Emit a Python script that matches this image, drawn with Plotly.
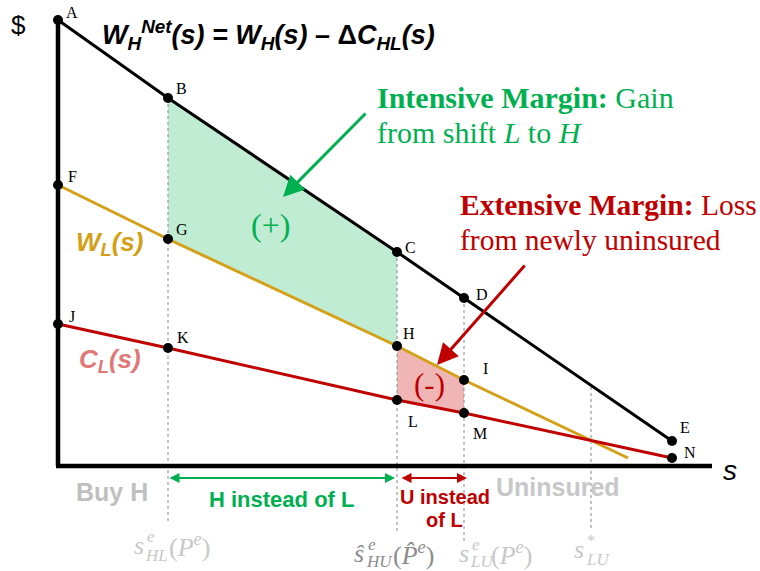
import plotly.graph_objects as go

# ---- data (s on the horizontal axis, dollars on the vertical) ----
wh_net_s = [0.00, 1.10, 3.39, 4.06, 6.14]
wh_net_v = [4.46, 3.68, 2.14, 1.68, 0.25]
wh_net_lbl = ["A", "B", "C", "D", "E"]

wl_s = [0.00, 1.10, 3.39, 4.06, 5.70]
wl_v = [2.81, 2.27, 1.20, 0.86, 0.08]
wl_lbl = ["F", "G", "H", "I", None]

cl_s = [0.00, 1.10, 3.39, 4.06, 6.14]
cl_v = [1.42, 1.18, 0.66, 0.53, 0.08]
cl_lbl = ["J", "K", "L", "M", "N"]

s_star_lu = 5.33
s_star_top = 0.79
axis_s_max = 6.54
axis_v_max = 4.48

# colours
BLACK = "#000000"
GOLD = "#D4A017"
RED = "#C00000"
GREEN = "#00B050"
PINK = "#E07878"
GREEN_FILL = "#C0ECD4"
RED_FILL = "#F0B6B6"
LIGHT = "#C8C8C8"
MID = "#8C8C8C"

fig = go.Figure()

# shaded margins: intensive (B-C-H-G) and extensive (H-I-M-L)
fig.add_trace(go.Scatter(
    x=[wh_net_s[1], wh_net_s[2], wl_s[2], wl_s[1]],
    y=[wh_net_v[1], wh_net_v[2], wl_v[2], wl_v[1]],
    fill="toself", fillcolor=GREEN_FILL, line=dict(width=0), mode="lines",
    hoverinfo="skip"))
fig.add_trace(go.Scatter(
    x=[wl_s[2], wl_s[3], cl_s[3], cl_s[2]],
    y=[wl_v[2], wl_v[3], cl_v[3], cl_v[2]],
    fill="toself", fillcolor=RED_FILL, line=dict(width=0), mode="lines",
    hoverinfo="skip"))

# dotted guides from the curves down below the axis
guide_bottoms = [-0.56, -0.66, -0.76]
for i, bot in zip([1, 2, 3], guide_bottoms):
    fig.add_trace(go.Scatter(x=[wh_net_s[i], wh_net_s[i]], y=[wh_net_v[i], bot],
                             mode="lines", line=dict(color="#888888", width=1, dash="dot"),
                             hoverinfo="skip"))
fig.add_trace(go.Scatter(x=[s_star_lu, s_star_lu], y=[s_star_top, -0.64],
                         mode="lines", line=dict(color="#888888", width=1, dash="dot"),
                         hoverinfo="skip"))

# curves
fig.add_trace(go.Scatter(x=wl_s, y=wl_v, mode="lines", line=dict(color=GOLD, width=3),
                         hoverinfo="skip"))
fig.add_trace(go.Scatter(x=cl_s, y=cl_v, mode="lines", line=dict(color=RED, width=3),
                         hoverinfo="skip"))
fig.add_trace(go.Scatter(x=wh_net_s, y=wh_net_v, mode="lines", line=dict(color=BLACK, width=3),
                         hoverinfo="skip"))

# axes
fig.add_trace(go.Scatter(x=[0, 0], y=[axis_v_max, 0], mode="lines",
                         line=dict(color=BLACK, width=4.5), hoverinfo="skip"))
fig.add_trace(go.Scatter(x=[-0.02, axis_s_max], y=[0, 0], mode="lines",
                         line=dict(color=BLACK, width=4.5), hoverinfo="skip"))

# labelled points
pts_s, pts_v, pts_l = [], [], []
for xs, vs, ls in [(wh_net_s, wh_net_v, wh_net_lbl), (wl_s, wl_v, wl_lbl), (cl_s, cl_v, cl_lbl)]:
    for x, v, l in zip(xs, vs, ls):
        if l:
            pts_s.append(x); pts_v.append(v); pts_l.append(l)
fig.add_trace(go.Scatter(x=pts_s, y=pts_v, mode="markers",
                         marker=dict(color=BLACK, size=10), hoverinfo="skip"))

label_offsets = {
    "A": (14, 8), "B": (13, 10), "C": (13, 5), "D": (18, 4), "E": (13, 14),
    "F": (14, 9), "G": (14, 10), "H": (12, 13), "I": (21, 12),
    "J": (14, 8), "K": (15, 11), "L": (16, -21), "M": (16, -20), "N": (18, 6),
}
SERIF = "Liberation Serif"
SANS = "Liberation Sans"
ann = []
for x, v, l in zip(pts_s, pts_v, pts_l):
    dx, dy = label_offsets[l]
    ann.append(dict(x=x, y=v, text=l, showarrow=False, xshift=dx, yshift=dy,
                    font=dict(family=SERIF, size=16, color=BLACK)))


def txt(x, y, text, size, color, family=SANS, xanchor="center", xshift=0):
    ann.append(dict(x=x, y=y, text=text, showarrow=False, xanchor=xanchor, xshift=xshift,
                    yanchor="middle", font=dict(family=family, size=size, color=color)))


txt(-0.40, 4.41, "$", 26, BLACK)
txt(2.10, 4.31, "<b><i>W<sub>H</sub><sup>Net</sup>(s) = W<sub>H</sub>(s) – </i>Δ<i>C<sub>HL</sub>(s)</i></b>",
    27, BLACK)
txt(0.51, 2.23, "<b><i>W<sub>L</sub>(s)</i></b>", 26, GOLD)
txt(0.52, 1.06, "<b><i>C<sub>L</sub>(s)</i></b>", 26, PINK)
txt(6.72, -0.04, "<i>s</i>", 28, BLACK)

txt(3.17, 3.69, "<b>Intensive Margin:</b> Gain", 30, GREEN, SERIF, "left")
txt(3.17, 3.34, "from shift <i>L</i> to <i>H</i>", 30, GREEN, SERIF, "left")
txt(4.00, 2.61, "<b>Extensive Margin:</b> Loss", 29.5, RED, SERIF, "left")
txt(4.00, 2.26, "from newly uninsured", 29.5, RED, SERIF, "left")
txt(2.12, 2.41, "(+)", 32, GREEN, SERIF)
txt(3.71, 0.82, "(-)", 31, RED, SERIF)

# callout arrows
ann.append(dict(x=2.25, y=2.69, ax=3.09, ay=3.54, axref="x", ayref="y", xref="x", yref="y",
                showarrow=True, arrowhead=2, arrowsize=1.4, arrowwidth=3, arrowcolor=GREEN, text=""))
ann.append(dict(x=3.79, y=1.01, ax=4.68, ay=2.02, axref="x", ayref="y", xref="x", yref="y",
                showarrow=True, arrowhead=2, arrowsize=1.4, arrowwidth=3, arrowcolor=RED, text=""))

# bracket arrows below the axis
ann.append(dict(x=wh_net_s[2] - 0.02, y=-0.12, ax=wh_net_s[1], ay=-0.12, axref="x", ayref="y",
                showarrow=True, arrowhead=2, startarrowhead=2, arrowside="end+start",
                arrowwidth=2, arrowcolor=GREEN, text=""))
ann.append(dict(x=wh_net_s[3] + 0.03, y=-0.12, ax=wh_net_s[2] + 0.03, ay=-0.12, axref="x", ayref="y",
                showarrow=True, arrowhead=2, startarrowhead=2, arrowside="end+start",
                arrowwidth=2, arrowcolor=RED, text=""))

txt(0.54, -0.26, "<b>Buy H</b>", 25, "#BFBFBF")
txt(2.23, -0.33, "<b>H instead of L</b>", 22, GREEN)
txt(3.87, -0.31, "<b>U instead</b>", 20, RED)
txt(3.86, -0.54, "<b>of L</b>", 20, RED)
txt(5.00, -0.21, "<b>Uninsured</b>", 25, "#C8C8C8")


# threshold labels: main symbol, stacked super/subscript, then the argument
def threshold(x, y, color, main, sup, sub, arg, dx, sub_drop=0.10):
    ann.append(dict(x=x, y=y, text=main, showarrow=False, xanchor="left", yanchor="middle",
                    xshift=dx[0], font=dict(family=SERIF, size=26, color=color)))
    ann.append(dict(x=x, y=y + 0.09, text=sup, showarrow=False, xanchor="left", yanchor="middle",
                    xshift=dx[1], font=dict(family=SERIF, size=17, color=color)))
    ann.append(dict(x=x, y=y - sub_drop, text=sub, showarrow=False, xanchor="left", yanchor="middle",
                    xshift=dx[2], font=dict(family=SERIF, size=17, color=color)))
    if arg:
        ann.append(dict(x=x, y=y, text=arg, showarrow=False, xanchor="left", yanchor="middle",
                        xshift=dx[3], font=dict(family=SERIF, size=26, color=color)))


threshold(wh_net_s[1], -0.79, LIGHT, "<i>s</i>", "<i>e</i>", "<i>HL</i>",
          "(<i>P<sup>e</sup></i>)", (-36, -23, -25, -1))
threshold(wh_net_s[2], -0.87, MID, "<i>ŝ</i>", "<i>e</i>", "<i>HU</i>",
          "(<i>P̂<sup>e</sup></i>)", (-45, -31, -33, -6), 0.08)
threshold(wh_net_s[3], -0.87, LIGHT, "<i>s</i>", "<i>e</i>", "<i>LU</i>",
          "(<i>P<sup>e</sup></i>)", (-7, 6, 4, 25), 0.08)
threshold(s_star_lu, -0.83, LIGHT, "<i>s</i>", "*", "<i>LU</i>", None, (-19, -6, -7))

fig.update_layout(
    width=760, height=571, margin=dict(l=0, r=0, t=0, b=0),
    paper_bgcolor="white", plot_bgcolor="white", showlegend=False,
    xaxis=dict(range=[-0.58, 7.02], visible=False, fixedrange=True),
    yaxis=dict(range=[-1.05, 4.66], visible=False, fixedrange=True),
    annotations=ann,
)
fig.write_html("out.html")
